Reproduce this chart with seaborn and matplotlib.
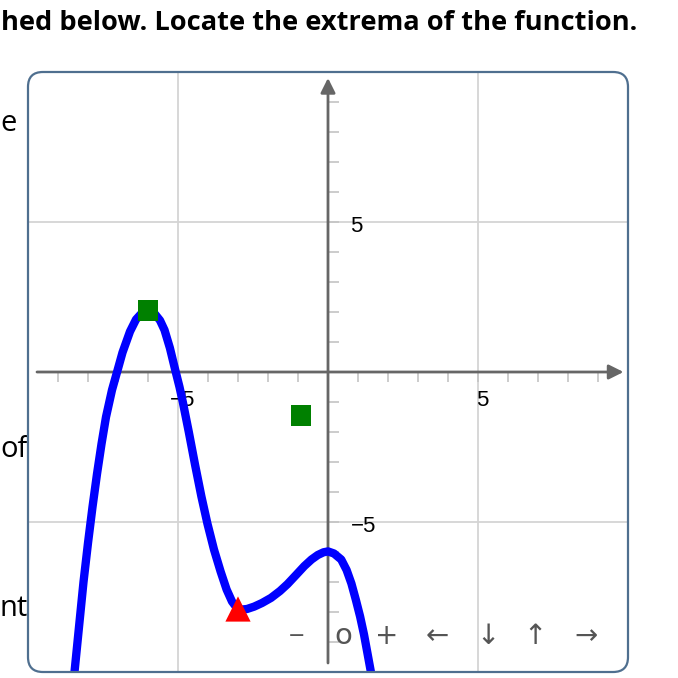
import matplotlib
matplotlib.use("Agg")
import matplotlib.pyplot as plt
import seaborn as sns
import pandas as pd
from matplotlib.patches import FancyBboxPatch

# ---- data ----
curve_x = [-8.45, -8.30, -8.15, -8.00, -7.85, -7.70, -7.55, -7.40, -7.20, -7.02, -6.85, -6.60,
           -6.40, -6.20, -6.00, -5.80, -5.60, -5.45, -5.27, -5.10, -4.95, -4.84, -4.64, -4.43,
           -4.22, -4.02, -3.80, -3.58, -3.38, -3.20, -3.05, -2.90, -2.70, -2.46, -2.20, -1.90,
           -1.60, -1.35, -1.05, -0.79, -0.55, -0.34, -0.15, 0.00, 0.20, 0.44, 0.62, 0.78,
           0.93, 1.07, 1.20, 1.32, 1.43]
curve_y = [-10.0, -8.50, -7.00, -5.70, -4.50, -3.40, -2.40, -1.50, -0.60, 0.04, 0.65, 1.35,
           1.75, 1.97, 2.05, 1.97, 1.72, 1.40, 0.80, 0.10, -0.50, -1.00, -2.00, -3.10,
           -4.15, -5.05, -5.92, -6.65, -7.25, -7.65, -7.85, -7.92, -7.90, -7.82, -7.70, -7.53,
           -7.30, -7.07, -6.75, -6.47, -6.25, -6.10, -6.01, -5.98, -6.05, -6.25, -6.60, -7.05,
           -7.60, -8.15, -8.75, -9.40, -10.0]

max_x = [-6.0, -0.9]      # green squares
max_y = [2.05, -1.45]
min_x = [-3.0]            # red triangle
min_y = [-7.9]

x_ticks = [-9, -8, -7, -6, -5, -4, -3, -2, -1, 1, 2, 3, 4, 5, 6, 7, 8, 9]
y_ticks = [-9, -8, -7, -6, -5, -4, -3, -2, -1, 1, 2, 3, 4, 5, 6, 7, 8, 9]
x_labels = {-5: "\u22125", 5: "5"}
y_labels = {5: "5", -5: "\u22125"}
grid_vals = [-5, 5]

title_text = "hed below. Locate the extrema of the function."
side_texts = ["e", "of", "nt"]
toolbar = ["\u2212", "o", "+", "\u2190", "\u2193", "\u2191", "\u2192"]

# ---- figure ----
sns.set_style("white")
plt.rcParams['font.family'] = ['Liberation Sans', 'DejaVu Sans']
W = 678
fig = plt.figure(figsize=(6.78, 6.78), dpi=100)
ax = fig.add_axes([28 / W, 6 / W, 600 / W, 600 / W])
ax.set_xlim(-10, 10)
ax.set_ylim(-10, 10)
for s in ax.spines.values():
    s.set_visible(False)
ax.set_xticks([])
ax.set_yticks([])
ax.patch.set_alpha(0)

axis_col = "#666666"
grid_col = "#d4d4d4"
tick_col = "#c4c4c4"

for g in grid_vals:
    ax.axvline(g, color=grid_col, lw=1.3, zorder=1)
    ax.axhline(g, color=grid_col, lw=1.3, zorder=1)

ax.vlines(x_ticks, -0.33, 0, color=tick_col, lw=1.2, zorder=1)
ax.hlines(y_ticks, 0, 0.35, color=tick_col, lw=1.2, zorder=1)

# axes with arrows
ax.annotate("", xy=(9.85, 0), xytext=(-9.7, 0),
            arrowprops=dict(arrowstyle="-|>", color=axis_col, lw=2, mutation_scale=22,
                            shrinkA=0, shrinkB=0), zorder=2)
ax.annotate("", xy=(0, 9.8), xytext=(0, -9.7),
            arrowprops=dict(arrowstyle="-|>", color=axis_col, lw=2, mutation_scale=22,
                            shrinkA=0, shrinkB=0), zorder=2)

for v, t in x_labels.items():
    ax.text(v + 0.15, -0.95, t, ha="center", va="center", fontsize=16, color="black", zorder=3)
for v, t in y_labels.items():
    ax.text(0.75, v - 0.15, t, ha="left", va="center", fontsize=16, color="black", zorder=3)

df = pd.DataFrame({"x": curve_x, "y": curve_y})
sns.lineplot(data=df, x="x", y="y", sort=False, color="#0000ff", lw=6, ax=ax, zorder=4,
             solid_capstyle="butt", solid_joinstyle="round")
ax.set_xlabel("")
ax.set_ylabel("")

sns.scatterplot(x=max_x, y=max_y, marker="s", s=220, color="#008000", edgecolor="none",
                ax=ax, zorder=5)
sns.scatterplot(x=min_x, y=min_y, marker="^", s=330, color="#ff0000", edgecolor="none",
                ax=ax, zorder=5)

# toolbar
tb_x = [297, 343, 387, 437, 488, 535, 586]
tb_size = [15, 21, 20, 20, 20, 20, 20]
for px, t, fs in zip(tb_x, toolbar, tb_size):
    fig.text(px / W, 1 - 636 / W, t, ha="center", va="center", fontsize=fs,
             color="#555555", family=["DejaVu Sans"])

# frame
fig.add_artist(FancyBboxPatch((28 / W, 6 / W), 600 / W, 600 / W,
                              boxstyle="round,pad=0,rounding_size=0.022",
                              transform=fig.transFigure, fill=False,
                              ec="#4f6f8f", lw=1.6, zorder=10))

# surrounding page text
fig.text(1 / W, 1 - 30 / W, title_text, ha="left", va="baseline", fontsize=19.6,
         fontweight="bold", family=["Open Sans", "DejaVu Sans"], color="black")
for t, y in zip(side_texts, [131, 457, 616]):
    fig.text(0 / W, 1 - y / W, t, ha="left", va="baseline", fontsize=21,
             family=["Open Sans", "DejaVu Sans"], color="black")

fig.savefig("out.png", dpi=100)
